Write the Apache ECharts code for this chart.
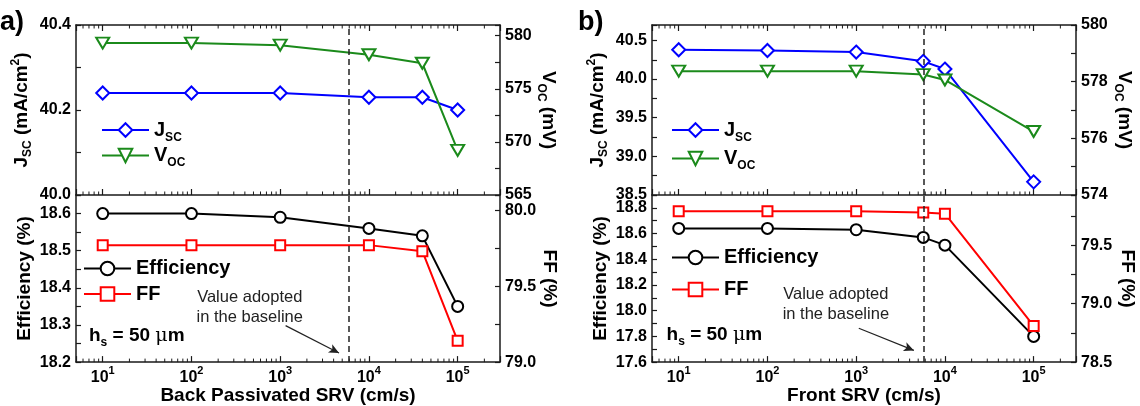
<!DOCTYPE html>
<html><head><meta charset="utf-8">
<script src="https://cdn.jsdelivr.net/npm/echarts@6/dist/echarts.min.js"></script>
<style>html,body{margin:0;padding:0;background:#fff}#c{width:1140px;height:406px}</style>
</head><body><div id="c"></div>
<script>
// ---------- data ----------
const srvBack   = [10, 100, 1000, 10000, 40000, 100000];
const jscBack   = [40.24, 40.24, 40.24, 40.23, 40.23, 40.20];
const vocBack   = [579.3, 579.3, 579.1, 578.2, 577.4, 569.2];
const effBack   = [18.60, 18.60, 18.59, 18.56, 18.54, 18.35];
const ffBack    = [79.77, 79.77, 79.77, 79.77, 79.73, 79.14];

const srvFront  = [10, 100, 1000, 5700, 10000, 100000];
const jscFront  = [40.38, 40.37, 40.35, 40.23, 40.13, 38.67];
const vocFront  = [578.37, 578.37, 578.37, 578.25, 578.06, 576.24];
const effFront  = [18.64, 18.64, 18.63, 18.57, 18.51, 17.80];
const ffFront   = [79.79, 79.79, 79.79, 79.78, 79.77, 78.81];

const baselineBack = 6000;
const baselineFront = 5700;
const minorTicks = [6,7,8,9,20,30,40,50,60,70,80,90,200,300,400,500,600,700,800,900,
  2000,3000,4000,5000,6000,7000,8000,9000,20000,30000,40000,50000,60000,70000,80000,90000,200000];
const xRange = [5, 300000];

// annotation anchors in data units
const noteBack  = { text: [454, 18.347], arrowFrom: [1150, 79.24], arrowTo: [4600, 79.06], hs: [7.0, 18.27] };
const noteFront = { text: [590, 18.046], arrowFrom: [1070, 78.79], arrowTo: [4470, 78.60], hs: [7.3, 17.81] };

// ---------- styling helpers ----------
const FONT = '"Liberation Sans", Arial, Helvetica, sans-serif';
const AX = '#1a1a1a';
const BLUE = '#0000ff', GREEN = '#1b8a1b', RED = '#ff0000', BLACK = '#000000';

const richName = {
  t:  {fontSize: 19, fontWeight: 'bold', fontFamily: FONT, color: '#000'},
  sb: {fontSize: 12, fontWeight: 'bold', fontFamily: FONT, color: '#000', padding: [13, 0, 0, 0]},
  sp: {fontSize: 12, fontWeight: 'bold', fontFamily: FONT, color: '#000', padding: [0, 0, 12, 0]}
};
const richLeg = {
  t:  {fontSize: 20, fontWeight: 'bold', fontFamily: FONT, color: '#000'},
  sb: {fontSize: 12, fontWeight: 'bold', fontFamily: FONT, color: '#000', padding: [15, 0, 0, 0]}
};
const richX = {
  b: {fontSize: 16, fontWeight: 'bold', fontFamily: FONT, color: '#000'},
  s: {fontSize: 11, fontWeight: 'bold', fontFamily: FONT, color: '#000', padding: [0, 0, 13, 0]}
};

function decadeLabel(v) {
  const e = Math.log10(v), r = Math.round(e);
  return Math.abs(e - r) < 1e-6 ? '{b|10}{s|' + r + '}' : '';
}
function stepLabel(step, dec) {
  return function (v) {
    const r = v / step;
    return Math.abs(r - Math.round(r)) < 1e-6 ? v.toFixed(dec) : '';
  };
}

function xAx(grid, pos, showLabels, name) {
  return {
    type: 'log', logBase: 10, gridIndex: grid, position: pos, min: xRange[0], max: xRange[1],
    axisLine: {show: true, onZero: false, lineStyle: {color: AX, width: 1.5}},
    axisTick: {show: true, inside: true, length: 6, lineStyle: {color: AX, width: 1.2}},
    axisLabel: {show: showLabels, formatter: decadeLabel, margin: 3, rich: richX},
    splitLine: {show: false}, minorTick: {show: false},
    name: name || '', nameLocation: 'middle', nameGap: 23,
    nameTextStyle: {fontSize: 19, fontWeight: 'bold', fontFamily: FONT, color: '#000'}
  };
}
function yAx(grid, pos, min, max, interval, step, dec, name, nameGap) {
  return {
    type: 'value', gridIndex: grid, position: pos, min: min, max: max, interval: interval,
    axisLine: {show: true, onZero: false, lineStyle: {color: AX, width: 1.5}},
    axisTick: {show: true, inside: true, length: 5, lineStyle: {color: AX, width: 1.2}},
    axisLabel: {formatter: stepLabel(step, dec), margin: 5, color: '#000', fontSize: 16,
      fontWeight: 'bold', fontFamily: FONT},
    splitLine: {show: false},
    name: name, nameLocation: 'middle', nameGap: nameGap,
    nameRotate: pos === 'right' ? -90 : 90,
    nameTextStyle: {fontSize: 19, fontWeight: 'bold', fontFamily: FONT, color: '#000', rich: richName}
  };
}
function pairs(xs, ys) { return xs.map((x, i) => [x, ys[i]]); }

function lineSeries(name, xs, ys, xi, yi, color, symbol, size, rotate) {
  return {
    type: 'line', name: name, xAxisIndex: xi, yAxisIndex: yi, data: pairs(xs, ys),
    symbol: symbol, symbolSize: size, symbolRotate: rotate || 0, showAllSymbol: true,
    lineStyle: {color: color, width: 2},
    itemStyle: {color: '#fff', borderColor: color, borderWidth: 2},
    emphasis: {disabled: true}, z: 3, animation: false
  };
}
function dashed(x) {
  return {silent: true, symbol: ['none', 'none'], label: {show: false}, animation: false,
    lineStyle: {color: '#222', type: [6, 4], width: 1.5}, data: [{xAxis: x}]};
}
function arrow(from, to) {
  return {silent: true, symbol: ['none', 'arrow'], symbolSize: [7, 10], label: {show: false}, animation: false,
    lineStyle: {color: '#222', type: 'solid', width: 1.2},
    data: [[{coord: from}, {coord: to}]]};
}
function notes(n) {
  return {silent: true, symbol: 'circle', symbolSize: 0, animation: false,
    data: [
      {coord: n.text, label: {show: true, position: 'inside', formatter: 'Value adopted\nin the baseline',
        fontSize: 16.5, lineHeight: 20, color: '#222', fontFamily: FONT, align: 'center'}},
      {coord: n.hs, label: {show: true, position: 'right', distance: 0,
        formatter: '{t|h}{sb|s}{t| = 50 }{mu|\u03bc}{t|m}',
        rich: {
          t: {fontSize: 19, fontWeight: 'bold', fontFamily: FONT, color: '#000'},
          mu: {fontSize: 19, fontWeight: 'normal', fontFamily: '"DejaVu Serif", serif', color: '#000'},
          sb: {fontSize: 12, fontWeight: 'bold', fontFamily: FONT, color: '#000', padding: [13, 0, 0, 0]}
        }}}
    ]};
}
function minorSeries(xi, yi, yMin, withTop) {
  return {
    type: 'custom', xAxisIndex: xi, yAxisIndex: yi, silent: true, animation: false, z: 2,
    data: minorTicks.map(v => [v, yMin]), encode: {x: 0, y: 1},
    renderItem: function (params, api) {
      const cs = params.coordSys;
      const x = api.coord([api.value(0), api.value(1)])[0];
      const st = {stroke: AX, lineWidth: 1};
      const ch = [{type: 'line', shape: {x1: x, y1: cs.y + cs.height, x2: x, y2: cs.y + cs.height - 3.5}, style: st}];
      if (withTop) ch.push({type: 'line', shape: {x1: x, y1: cs.y, x2: x, y2: cs.y + 3.5}, style: st});
      return {type: 'group', children: ch};
    }
  };
}

const LEG = {
  Jsc_a: '{t|J}{sb|SC}', Voc_a: '{t|V}{sb|OC}', Eff_a: '{t|Efficiency}', FF_a: '{t|FF}',
  Jsc_b: '{t|J}{sb|SC}', Voc_b: '{t|V}{sb|OC}', Eff_b: '{t|Efficiency}', FF_b: '{t|FF}'
};
const legendPos = [
  ['Jsc_a', 101, 120], ['Voc_a', 101, 145.5], ['Eff_a', 83, 258.5], ['FF_a', 83, 284],
  ['Jsc_b', 671, 120], ['Voc_b', 671, 148.5], ['Eff_b', 671, 247.5], ['FF_b', 671, 279.5]
];

const effA = lineSeries('Eff_a', srvBack, effBack, 2, 2, BLACK, 'circle', 11);
effA.markLine = dashed(baselineBack); effA.markPoint = notes(noteBack);
const ffA = lineSeries('FF_a', srvBack, ffBack, 2, 3, RED, 'rect', 10);
ffA.markLine = arrow(noteBack.arrowFrom, noteBack.arrowTo);
const jscA = lineSeries('Jsc_a', srvBack, jscBack, 0, 0, BLUE, 'diamond', 13);
jscA.markLine = dashed(baselineBack);

const effB = lineSeries('Eff_b', srvFront, effFront, 5, 6, BLACK, 'circle', 11);
effB.markLine = dashed(baselineFront); effB.markPoint = notes(noteFront);
const ffB = lineSeries('FF_b', srvFront, ffFront, 5, 7, RED, 'rect', 10);
ffB.markLine = arrow(noteFront.arrowFrom, noteFront.arrowTo);
const jscB = lineSeries('Jsc_b', srvFront, jscFront, 3, 4, BLUE, 'diamond', 13);
jscB.markLine = dashed(baselineFront);

const option = {
  animation: false,
  textStyle: {fontFamily: FONT},
  title: [
    {text: 'a)', left: 0, top: 9, padding: 0, textStyle: {fontSize: 27, fontWeight: 'bold', fontFamily: FONT, color: '#000'}},
    {text: 'b)', left: 578, top: 9, padding: 0, textStyle: {fontSize: 27, fontWeight: 'bold', fontFamily: FONT, color: '#000'}}
  ],
  grid: [
    {left: 76, top: 25, width: 424, height: 170},
    {left: 76, top: 195, width: 424, height: 169},
    {left: 652, top: 25, width: 424, height: 170},
    {left: 652, top: 195, width: 424, height: 169}
  ],
  legend: legendPos.map(p => ({
    data: [p[0]], left: p[1], top: p[2], padding: 0, itemWidth: 47, itemHeight: 17,
    selectedMode: false, formatter: n => LEG[n],
    textStyle: {color: '#000', fontSize: 20, fontWeight: 'bold', fontFamily: FONT, rich: richLeg}
  })),
  xAxis: [
    xAx(0, 'bottom', false), xAx(0, 'top', false), xAx(1, 'bottom', true, 'Back Passivated SRV (cm/s)'),
    xAx(2, 'bottom', false), xAx(2, 'top', false), xAx(3, 'bottom', true, 'Front SRV (cm/s)')
  ],
  yAxis: [
    yAx(0, 'left', 40.0, 40.4, 0.1, 0.2, 1, '{t|J}{sb|SC}{t| (mA/cm}{sp|2}{t|)}', 42),
    yAx(0, 'right', 565, 581, 2.5, 5, 0, '{t|V}{sb|OC}{t| (mV)}', 35),
    yAx(1, 'left', 18.2, 18.65, 0.05, 0.1, 1, 'Efficiency (%)', 42),
    yAx(1, 'right', 79.0, 80.1, 0.25, 0.5, 1, 'FF (%)', 40),
    yAx(2, 'left', 38.5, 40.7, 0.25, 0.5, 1, '{t|J}{sb|SC}{t| (mA/cm}{sp|2}{t|)}', 42),
    yAx(2, 'right', 574, 580, 1, 2, 0, '{t|V}{sb|OC}{t| (mV)}', 36),
    yAx(3, 'left', 17.6, 18.9, 0.1, 0.2, 1, 'Efficiency (%)', 42),
    yAx(3, 'right', 78.5, 79.93, 0.25, 0.5, 1, 'FF (%)', 42)
  ],
  series: [
    minorSeries(0, 0, 40.0, true), minorSeries(2, 2, 18.2, false),
    minorSeries(3, 4, 38.5, true), minorSeries(5, 6, 17.6, false),
    jscA, lineSeries('Voc_a', srvBack, vocBack, 0, 1, GREEN, 'triangle', [13, 11], 180),
    effA, ffA,
    jscB, lineSeries('Voc_b', srvFront, vocFront, 3, 5, GREEN, 'triangle', [13, 11], 180),
    effB, ffB
  ]
};
const chart = echarts.init(document.getElementById('c'), null, {renderer: 'canvas'});
chart.setOption(option);
</script>
</body></html>
